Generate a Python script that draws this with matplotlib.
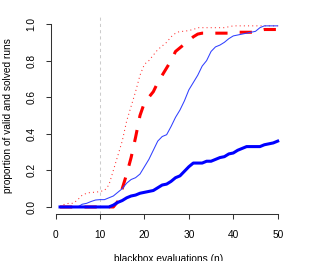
import numpy as np
import matplotlib
matplotlib.use('Agg')
from matplotlib import pyplot as plt

plt.rcParams['font.family'] = ['Liberation Sans', 'DejaVu Sans']

# evaluations 1..50
n = np.arange(1, 51)

# red dotted (thin): valid runs, variant A
valid_a = [0.0, 0.015, 0.02, 0.02, 0.04, 0.065, 0.075, 0.08, 0.08, 0.085,
           0.09, 0.12, 0.2, 0.28, 0.36, 0.47, 0.55, 0.63, 0.72, 0.78,
           0.8, 0.83, 0.86, 0.88, 0.9, 0.93, 0.95, 0.96, 0.96, 0.965,
           0.97, 0.98, 0.98, 0.98, 0.98, 0.98, 0.98, 0.98, 0.985, 0.99,
           0.99, 0.99, 0.99, 0.99, 0.99, 0.99, 0.99, 0.99, 0.99, 0.99]
# red dashed (thick): solved runs, variant A
solved_a = [0, 0, 0, 0, 0, 0, 0, 0, 0, 0,
            0, 0, 0.0, 0.03, 0.1, 0.18, 0.27, 0.38, 0.5, 0.57,
            0.6, 0.63, 0.68, 0.72, 0.76, 0.8, 0.85, 0.87, 0.89, 0.91,
            0.93, 0.945, 0.95, 0.95, 0.95, 0.95, 0.95, 0.95, 0.95, 0.95,
            0.955, 0.955, 0.955, 0.955, 0.955, 0.965, 0.97, 0.97, 0.97, 0.97]
# blue thin: valid runs, variant B
valid_b = [0, 0, 0, 0, 0, 0.015, 0.02, 0.03, 0.038, 0.04,
           0.04, 0.05, 0.06, 0.08, 0.1, 0.13, 0.15, 0.16, 0.18, 0.22,
           0.26, 0.31, 0.36, 0.385, 0.395, 0.44, 0.49, 0.53, 0.58, 0.64,
           0.68, 0.72, 0.77, 0.8, 0.85, 0.875, 0.885, 0.9, 0.92, 0.935,
           0.94, 0.945, 0.95, 0.955, 0.96, 0.98, 0.99, 0.99, 0.99, 0.99]
# blue thick: solved runs, variant B
solved_b = [0, 0, 0, 0, 0, 0, 0, 0, 0, 0,
            0, 0, 0.01, 0.025, 0.035, 0.05, 0.06, 0.065, 0.075, 0.08,
            0.085, 0.09, 0.105, 0.12, 0.125, 0.14, 0.16, 0.17, 0.195, 0.22,
            0.24, 0.24, 0.24, 0.25, 0.25, 0.26, 0.27, 0.275, 0.29, 0.295,
            0.31, 0.32, 0.33, 0.33, 0.33, 0.33, 0.34, 0.345, 0.35, 0.36]

xticks = [0, 10, 20, 30, 40, 50]
yticks = [0.0, 0.2, 0.4, 0.6, 0.8, 1.0]

fig = plt.figure(figsize=(3.13, 2.61), dpi=100)
ax = fig.add_axes([0.164, 0.179, 0.751, 0.757])

thin = 0.75
thick = 2.2
ax.axvline(10, color='#cccccc', lw=thin, dashes=(3, 3))
ax.plot(n, valid_a, color='#ff3030', lw=thin, dashes=(1, 3))
ax.plot(n, solved_a, color='red', lw=thick, dashes=(4, 4))
ax.plot(n, valid_b, color='#3040ff', lw=thin)
ax.plot(n, solved_b, color='blue', lw=thick)

ax.set_xlim(-0.96, 51.96)
ax.set_ylim(-0.04, 1.04)
for s in ['top', 'right']:
    ax.spines[s].set_visible(False)
ax.spines['left'].set_bounds(0, 1)
ax.spines['bottom'].set_bounds(0, 50)
for s in ['left', 'bottom']:
    ax.spines[s].set_linewidth(0.75)
    ax.spines[s].set_color('#333333')

ax.set_xticks(xticks)
ax.set_xticklabels([str(t) for t in xticks])
ax.set_yticks(yticks)
ax.set_yticklabels(['%.1f' % t for t in yticks], rotation=90, va='center')
ax.tick_params(axis='both', length=3.6, width=0.75, color='#333333', labelsize=7.3)
ax.tick_params(axis='x', pad=8)
ax.tick_params(axis='y', pad=7)

ax.set_xlabel('blackbox evaluations (n)', fontsize=7.3)
ax.set_ylabel('proportion of valid and solved runs', fontsize=7.3)
ax.xaxis.set_label_coords(0.5, -0.2)
ax.yaxis.set_label_coords(-0.163, 0.5)

fig.savefig('out.png', dpi=100)
